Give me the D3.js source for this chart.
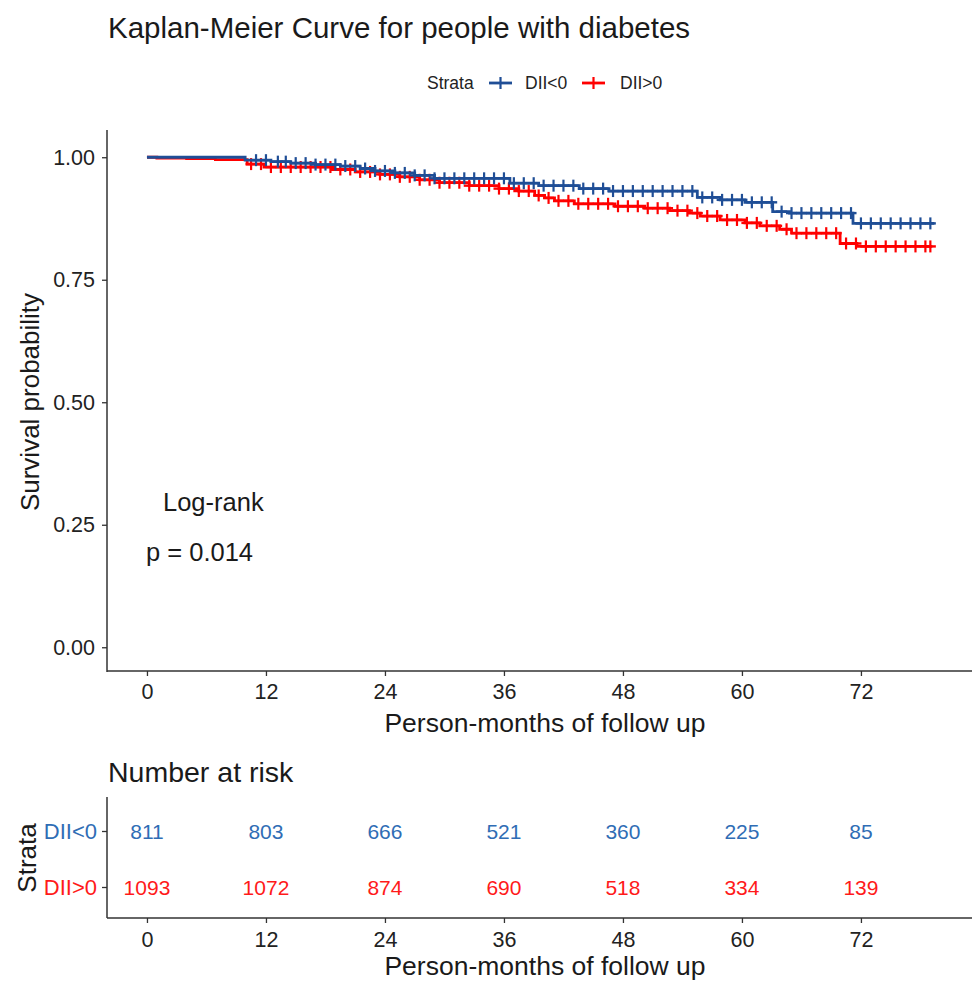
<!DOCTYPE html>
<meta charset="utf-8">
<script src="https://d3js.org/d3.v7.min.js"></script>
<style>
  body { margin: 0; background: #fff; }
  text { font-family: "Liberation Sans", Arial, sans-serif; }
</style>
<svg id="chart" width="974" height="983"></svg>
<script>
// strata
const strata = ["DII<0", "DII>0"];
const lineColors = ["#1f4e96", "#ff0000"];
const textColors = ["#2f6db5", "#ff1a1a"];

// KM steps for DII<0: [month, survival]
const kmLow = [
  [0, 1.000], [9.9, 0.994], [12.5, 0.991], [14.5, 0.988], [17, 0.985],
  [19.5, 0.982], [21.5, 0.977], [23, 0.972], [25, 0.968], [27, 0.963],
  [29, 0.957], [36.6, 0.947], [39.5, 0.942], [43.6, 0.936], [46.6, 0.931],
  [55.5, 0.918], [57.8, 0.913], [60.3, 0.908], [63.1, 0.889], [64.8, 0.886],
  [71.2, 0.865], [79.4, 0.865]
];
// KM steps for DII>0
const kmHigh = [
  [0, 1.000], [1.0, 0.998], [4.0, 0.997], [6.9, 0.995], [10.1, 0.986],
  [11.8, 0.980], [18.6, 0.975], [21, 0.970], [23.5, 0.965], [25.5, 0.960],
  [27.5, 0.954], [29.5, 0.948], [32.5, 0.942], [35.5, 0.936], [37.5, 0.931],
  [39.1, 0.922], [40.1, 0.917], [41.1, 0.911], [43.1, 0.905], [47.2, 0.900],
  [50.2, 0.896], [52.7, 0.891], [54.7, 0.886], [55.8, 0.880], [57.8, 0.872],
  [60.3, 0.866], [61.8, 0.860], [63.8, 0.853], [65.0, 0.845], [69.9, 0.824],
  [71.6, 0.818], [79.2, 0.818]
];

// censoring times (months)
const censorLow = [11, 12, 13.2, 14, 15, 16, 17, 18, 19, 20, 21, 22, 23, 24, 25, 26, 27,
  28, 29, 30, 31, 32, 33, 34, 35, 36, 37, 38, 39, 40, 41, 42, 43, 44, 45, 46, 47, 48,
  49, 50, 51, 52, 53, 54, 55, 56, 57, 58, 59, 60, 61, 62, 63, 64, 65, 66, 67, 68, 69,
  70, 71, 72, 73, 74, 75, 76, 77, 78, 79];
const censorHigh = [10.5, 11.5, 12.5, 13.5, 14.5, 15.5, 16.5, 17.5, 18.5, 19.5, 20.5,
  21.5, 22.5, 23.5, 24.5, 25.5, 26.5, 27.5, 28.5, 29.5, 30.5, 31.5, 32.5, 33.5, 34.5,
  35.5, 36.5, 37.5, 38.5, 39.5, 40.5, 41.5, 42.5, 43.5, 44.5, 45.5, 46.5, 47.5, 48.5,
  49.5, 50.5, 51.5, 52.5, 53.5, 54.5, 55.5, 56.5, 57.5, 58.5, 59.5, 60.5, 61.5, 62.5,
  63.5, 64.5, 65.5, 66.5, 67.5, 68.5, 69.5, 70.5, 71.5, 72.5, 73.5, 74.5, 75.5, 76.5,
  77.5, 78.5, 79];

// number at risk
const riskTimes = [0, 12, 24, 36, 48, 60, 72];
const riskLow = [811, 803, 666, 521, 360, 225, 85];
const riskHigh = [1093, 1072, 874, 690, 518, 334, 139];

const xTicks = [0, 12, 24, 36, 48, 60, 72];
const yTicks = [0, 0.25, 0.5, 0.75, 1];

const svg = d3.select("#chart");
const axisColor = "#333";
const inkColor = "#1a1a1a";

// scales
const x = d3.scaleLinear().domain([-4.03, 83.2]).range([107, 972]);
const y = d3.scaleLinear().domain([-0.0505, 1.0515]).range([672, 132]);

// title
svg.append("text").attr("x", 108).attr("y", 38)
  .style("font-size", "29.5px").attr("fill", inkColor)
  .text("Kaplan-Meier Curve for people with diabetes");

// legend
const leg = svg.append("g").attr("transform", "translate(0,83)");
leg.append("text").attr("x", 427).attr("y", 6).style("font-size", "17.5px").attr("fill", "#222").text("Strata");
[[489, 525], [582, 620]].forEach(function (p, i) {
  leg.append("line").attr("x1", p[0]).attr("x2", p[0] + 23).attr("y1", 0).attr("y2", 0)
    .attr("stroke", lineColors[i]).attr("stroke-width", 2.8);
  leg.append("line").attr("x1", p[0] + 11.5).attr("x2", p[0] + 11.5).attr("y1", -6).attr("y2", 6)
    .attr("stroke", lineColors[i]).attr("stroke-width", 2.2);
  leg.append("text").attr("x", p[1]).attr("y", 6).style("font-size", "17.5px").attr("fill", "#222").text(strata[i]);
});

function styleAxis(g, size) {
  g.select(".domain").remove();
  g.selectAll(".tick line").attr("stroke", axisColor).attr("stroke-width", 1.3);
  g.selectAll(".tick text").style("font-size", size).attr("fill", "#222")
    .attr("font-family", "Liberation Sans, Arial");
}

// main axes
const gx = svg.append("g").attr("transform", "translate(0,671)")
  .call(d3.axisBottom(x).tickValues(xTicks).tickSize(5).tickPadding(8));
styleAxis(gx, "21.5px");
gx.append("line").attr("x1", 107).attr("x2", 972).attr("stroke", axisColor).attr("stroke-width", 1.5);

const gy = svg.append("g").attr("transform", "translate(107,0)")
  .call(d3.axisLeft(y).tickValues(yTicks).tickFormat(d3.format(".2f")).tickSize(5).tickPadding(7));
styleAxis(gy, "21.5px");
gy.append("line").attr("y1", 130).attr("y2", 672).attr("stroke", axisColor).attr("stroke-width", 1.5);

svg.append("text").attr("transform", "translate(39,402) rotate(-90)")
  .attr("text-anchor", "middle").style("font-size", "26px").attr("fill", inkColor)
  .text("Survival probability");
svg.append("text").attr("x", 545).attr("y", 732).attr("text-anchor", "middle")
  .style("font-size", "26.5px").attr("fill", inkColor).text("Person-months of follow up");

// curves
const line = d3.line().curve(d3.curveStepAfter)
  .x(function (d) { return x(d[0]); })
  .y(function (d) { return y(d[1]); });

function survAt(km, t) {
  const i = d3.bisector(function (d) { return d[0]; }).right(km, t) - 1;
  return km[Math.max(0, i)][1];
}

[[kmHigh, censorHigh, 1], [kmLow, censorLow, 0]].forEach(function (s) {
  const km = s[0], cens = s[1], col = lineColors[s[2]];
  svg.append("path").datum(km).attr("d", line)
    .attr("fill", "none").attr("stroke", col).attr("stroke-width", 2.8);
  const g = svg.append("g");
  cens.forEach(function (t) {
    const cx = x(t), cy = y(survAt(km, t));
    g.append("line").attr("x1", cx - 5.5).attr("x2", cx + 5.5).attr("y1", cy).attr("y2", cy)
      .attr("stroke", col).attr("stroke-width", 2.4);
    g.append("line").attr("x1", cx).attr("x2", cx).attr("y1", cy - 6).attr("y2", cy + 6)
      .attr("stroke", col).attr("stroke-width", 2.2);
  });
});

// log-rank annotation
svg.append("text").attr("x", 163).attr("y", 511).style("font-size", "25.5px").attr("fill", inkColor).text("Log-rank");
svg.append("text").attr("x", 146).attr("y", 561).style("font-size", "25.5px").attr("fill", inkColor).text("p = 0.014");

// risk table
svg.append("text").attr("x", 108).attr("y", 782)
  .style("font-size", "28.5px").attr("fill", inkColor).text("Number at risk");

const yr = d3.scalePoint().domain(strata).range([831, 887]);

const rx = svg.append("g").attr("transform", "translate(0,918)")
  .call(d3.axisBottom(x).tickValues(xTicks).tickSize(5).tickPadding(9));
styleAxis(rx, "21.5px");
rx.append("line").attr("x1", 107).attr("x2", 972).attr("stroke", axisColor).attr("stroke-width", 1.5);

const ry = svg.append("g").attr("transform", "translate(107,0)")
  .call(d3.axisLeft(yr).tickSize(5).tickPadding(5));
styleAxis(ry, "22px");
ry.selectAll(".tick text").attr("fill", function (d, i) { return textColors[i]; });
ry.append("line").attr("y1", 797).attr("y2", 918).attr("stroke", axisColor).attr("stroke-width", 1.5);

svg.append("text").attr("transform", "translate(36,858) rotate(-90)")
  .attr("text-anchor", "middle").style("font-size", "26px").attr("fill", inkColor).text("Strata");
svg.append("text").attr("x", 545).attr("y", 975).attr("text-anchor", "middle")
  .style("font-size", "26.5px").attr("fill", inkColor).text("Person-months of follow up");

[riskLow, riskHigh].forEach(function (vals, i) {
  svg.append("g").selectAll("text").data(vals).join("text")
    .attr("x", function (d, j) { return x(riskTimes[j]); })
    .attr("y", yr(strata[i]))
    .attr("dy", "0.36em")
    .attr("text-anchor", "middle")
    .style("font-size", "21px")
    .attr("fill", textColors[i])
    .text(function (d) { return d; });
});
</script>
